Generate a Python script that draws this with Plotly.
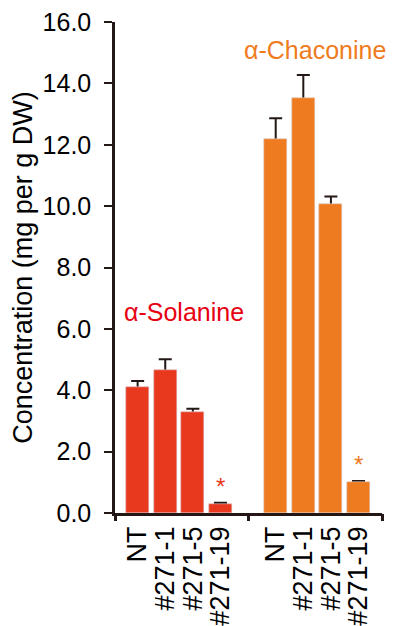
import plotly.graph_objects as go

categories = ["NT", "#271-1", "#271-5", "#271-19"]
solanine = [4.10, 4.66, 3.29, 0.30]
solanine_err = [0.20, 0.35, 0.11, 0.03]
chaconine = [12.20, 13.51, 10.07, 1.01]
chaconine_err = [0.66, 0.76, 0.24, 0.03]
significant = [False, False, False, True]
y_ticks = [0, 2, 4, 6, 8, 10, 12, 14, 16]
y_tick_labels = [f"{v:.1f}" for v in y_ticks]

red = "#E8381E"
orange = "#EE7B20"
dark = "#231815"
font = "Liberation Sans, Arial, sans-serif"

n = len(categories)
gap = 1
x_sol = list(range(n))
x_cha = [i + n + gap for i in range(n)]

fig = go.Figure()
series = [(x_sol, solanine, solanine_err, red), (x_cha, chaconine, chaconine_err, orange)]
# bars carrying the error bars, then identical bars on top hide the lower half
for xs, vals, errs, col in series:
    fig.add_trace(go.Bar(x=xs, y=vals, marker_color=col, width=0.83, showlegend=False,
                         error_y=dict(type="data", array=errs, visible=True, color=dark,
                                      thickness=2, width=6.5)))
for xs, vals, errs, col in series:
    fig.add_trace(go.Bar(x=xs, y=vals, marker_color=col, width=0.83, showlegend=False))

# significance stars
for xs, vals, errs, col in series:
    for x, v, e, s in zip(xs, vals, errs, significant):
        if s:
            fig.add_annotation(x=x, y=v + e, text="*", showarrow=False, yanchor="bottom",
                               yshift=1, font=dict(size=24, color=col, family=font))

fig.add_annotation(x=x_sol[1] + 0.67, y=6.55, text="α-Solanine", showarrow=False,
                   xanchor="center", yanchor="middle",
                   font=dict(size=25, color="#E60012", family=font))
fig.add_annotation(x=x_cha[1] + 0.41, y=15.09, text="α-Chaconine", showarrow=False,
                   xanchor="center", yanchor="middle",
                   font=dict(size=25, color=orange, family=font))

xr = [-0.82, 2 * n + gap - 1 + 0.85]
fig.update_layout(
    width=395, height=626,
    margin=dict(l=107, r=21, t=14, b=121),
    plot_bgcolor="white", paper_bgcolor="white",
    font=dict(family=font, color="black"),
    barmode="overlay", bargap=0,
    xaxis=dict(range=xr, tickvals=x_sol + x_cha, ticktext=categories + categories,
               tickangle=-90, ticks="", showline=True, linecolor=dark, linewidth=2.5,
               showgrid=False, zeroline=False, automargin=False, ticklabeloverflow="allow",
               tickfont=dict(size=27, family=font, color="black")),
    xaxis2=dict(range=xr, overlaying="x", side="bottom", tickvals=[xr[0], n - 1 + (gap + 1) / 2, xr[1]],
                ticks="outside", ticklen=7, tickwidth=2.5, tickcolor=dark, showticklabels=False,
                showline=False, showgrid=False, zeroline=False, automargin=False),
    yaxis=dict(range=[0, 16], tickvals=y_ticks, ticktext=y_tick_labels, ticks="outside",
               ticklen=8, tickwidth=2, tickcolor=dark, showline=True, linecolor=dark, linewidth=2.5,
               showgrid=False, zeroline=False, ticklabelstandoff=8, automargin=False,
               ticklabeloverflow="allow",
               tickfont=dict(size=25, family=font, color="black"),
               title=dict(text="Concentration (mg per g DW)", standoff=5,
                          font=dict(size=27, family=font, color="black"))),
)
fig.add_trace(go.Scatter(x=[None], y=[None], xaxis="x2", showlegend=False))
fig.write_html("out.html")
